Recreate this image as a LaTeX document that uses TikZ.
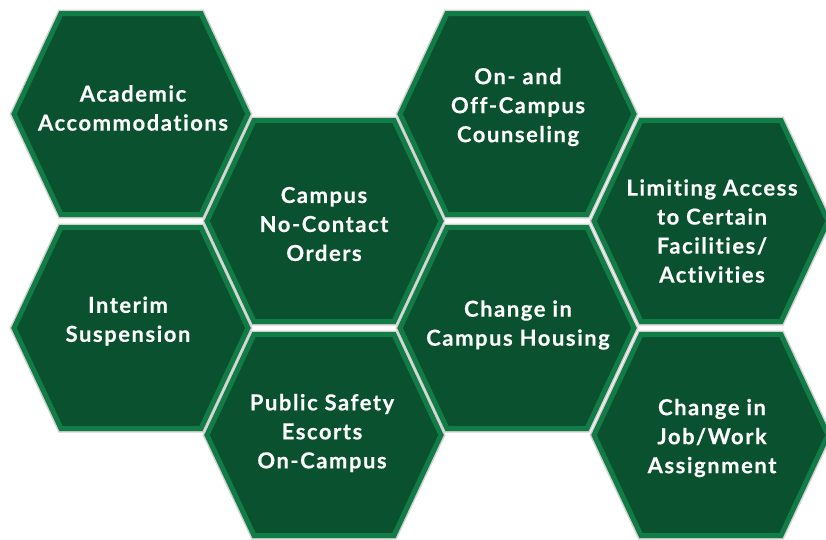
\documentclass[tikz,border=0pt]{standalone}
\usepackage{fontspec}
\setmainfont{Lato}
\newfontfamily\hexfont{Lato}[LetterSpace=7,FakeBold=0.4,Ligatures={NoCommon}]
\definecolor{hexfill}{RGB}{10,81,48}
\definecolor{hexedge}{RGB}{18,124,70}
\tikzset{
  hexshape/.style={fill=hexfill, draw=hexedge, line width=5pt, line join=miter},
  hexshadow/.style={draw=black!18, line width=8pt, line join=miter},
  hextext/.style={text=white, font=\hexfont\fontsize{22}{29}\selectfont\bfseries, align=center, inner sep=0pt},
}
\begin{document}
\begin{tikzpicture}[x=1pt,y=-1pt]
\useasboundingbox (0,0) rectangle (826,539);
\clip (0,0) rectangle (826,539);
\foreach \cx/\cy in {131/114,131/328,324/221,324/435,517/114,517/328,711/221,711/435}
  \path[hexshadow, shift={(\cx,\cy)}] (-117,0) -- (-70,-100.5) -- (70,-100.5) -- (117,0) -- (70,100.5) -- (-70,100.5) -- cycle;
\foreach \cx/\cy in {131/114,131/328,324/221,324/435,517/114,517/328,711/221,711/435}
  \path[hexshape, shift={(\cx,\cy)}] (-117,0) -- (-70,-100.5) -- (70,-100.5) -- (117,0) -- (70,100.5) -- (-70,100.5) -- cycle;
\node[hextext] (acad) at (133,108) {Academic\\Accommodations};
\node[hextext] (nocontact) at (324,224) {Campus\\No-Contact\\Orders};
\node[hextext] (interim) at (128,321) {Interim\\Suspension};
\node[hextext] (escorts) at (322,433) {Public Safety\\Escorts\\On-Campus};
\node[hextext] (counsel) at (518,107) {On- and\\Off-Campus\\Counseling};
\node[hextext] (housing) at (518,325) {Change in\\Campus Housing};
\node[hextext] (limit) at (712,231) {Limiting Access\\to Certain\\Facilities/\\Activities};
\node[hextext] (job) at (712,438) {Change in\\Job/Work\\Assignment};
\end{tikzpicture}
\end{document}
